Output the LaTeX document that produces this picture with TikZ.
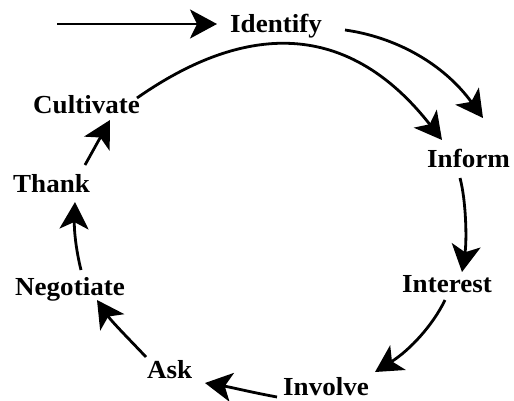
\documentclass[tikz,border=0pt]{standalone}
\usepackage{fontspec}
\setmainfont[FakeStretch=1.04]{Liberation Serif}
\usetikzlibrary{arrows.meta}
\tikzset{
  lbl/.style={font=\fontsize{26}{30}\selectfont\bfseries, inner sep=0pt, anchor=base west},
  arr/.style={line width=2.8pt, -{Stealth[length=27pt,width=29pt,inset=7pt]}}
}
\begin{document}
\begin{tikzpicture}[x=1pt,y=-1pt]
\useasboundingbox (0,0) rectangle (514,400);
\node[lbl] (identify) at (230,32) {Identify};
\node[lbl] (inform) at (427,167) {Inform};
\node[lbl] (interest) at (402,292) {Interest};
\node[lbl] (involve) at (283,395) {Involve};
\node[lbl] (ask) at (147,378) {Ask};
\node[lbl] (negotiate) at (15,295) {Negotiate};
\node[lbl] (thank) at (13,192) {Thank};
\node[lbl] (cultivate) at (33,113) {Cultivate};
\coordinate (start) at (57,24);
% start arrow
\draw[arr] (start) -- ([shift={(-13,-8)}]identify.base west);
% Identify -> Inform
\draw[arr] ([shift={(115,-2)}]identify.base west) .. controls (395,37) and (443,63) .. ([shift={(56,-49)}]inform.base west);
% Cultivate -> Inform
\draw[arr] ([shift={(104,-15)}]cultivate.base west) .. controls (227,35) and (337,6) .. ([shift={(15,-27)}]inform.base west);
% Inform -> Interest
\draw[arr] ([shift={(33,11)}]inform.base west) .. controls (466,200) and (467,240) .. ([shift={(60,-20)}]interest.base west);
% Interest -> Involve
\draw[arr] ([shift={(43,8)}]interest.base west) .. controls (433,325) and (410,350) .. ([shift={(92,-23)}]involve.base west);
% Involve -> Ask
\draw[arr] ([shift={(-6,2)}]involve.base west) .. controls (250,392) and (230,387) .. ([shift={(58,5)}]ask.base west);
% Ask -> Negotiate
\draw[arr] ([shift={(-1,-21)}]ask.base west) .. controls (130,340) and (112,322) .. ([shift={(82,5)}]negotiate.base west);
% Negotiate -> Thank
\draw[arr] ([shift={(66,-25)}]negotiate.base west) .. controls (76,250) and (74,230) .. ([shift={(62,10)}]thank.base west);
% Thank -> Cultivate
\draw[arr] ([shift={(72,-27)}]thank.base west) -- ([shift={(77,7)}]cultivate.base west);
\end{tikzpicture}
\end{document}
